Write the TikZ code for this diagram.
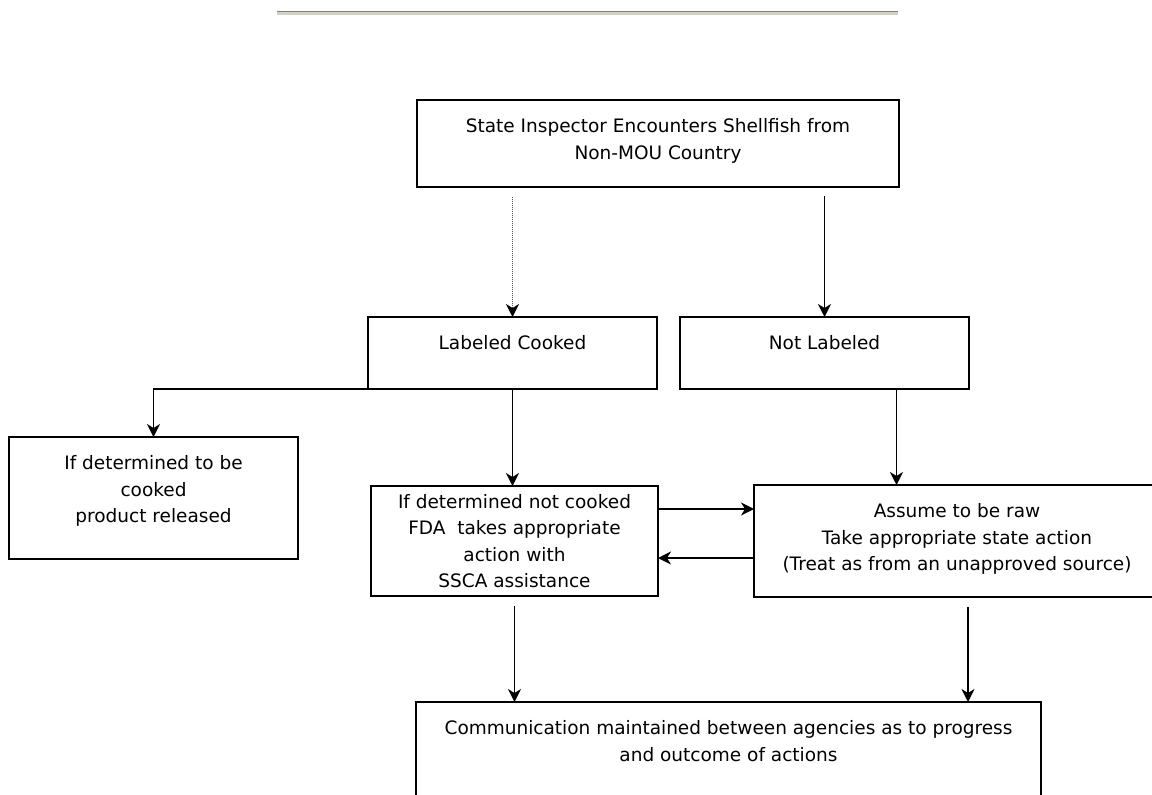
\documentclass[tikz,border=0pt]{standalone}
\usepackage{fontspec}
\setmainfont{DejaVu Sans}
\usepackage{xcolor}
\usetikzlibrary{arrows.meta}

\definecolor{hrface}{RGB}{212,208,200}
\definecolor{hrshade}{RGB}{128,128,128}

\tikzset{
  box/.style={draw, line width=1.5pt, rectangle, anchor=north west,
    inner sep=0pt, outer sep=0pt, align=center},
  caption/.style={anchor=north, yshift=-18.5pt, inner sep=0pt, align=center},
  arr/.style={line width=1.6pt, -{Stealth[length=13pt,width=13pt,inset=4pt,color=black]}}
}

\begin{document}
\begin{tikzpicture}[x=1pt,y=-1pt,font=\fontsize{18.5}{26.5}\selectfont]
                \useasboundingbox (0,0) rectangle (1152,795);
                \clip (0,0) rectangle (1152,795);
                % rule across the top
                \fill[hrface] (277,12) rectangle (898,15);
                \draw[hrshade, line width=1pt] (277,11.5) -- (898,11.5);
                % the boxes
                \node[box, minimum width=482pt, minimum height=87pt,
                  label={[caption]north:State Inspector Encounters Shellfish from\\Non-MOU Country}] (inspect) at (417,100) {};
                \node[box, minimum width=289pt, minimum height=72pt,
                  label={[caption]north:Labeled Cooked}] (lc) at (368,317) {};
                \node[box, minimum width=289pt, minimum height=72pt,
                  label={[caption]north:Not Labeled}] (nl) at (680,317) {};
                \node[box, minimum width=289pt, minimum height=122pt,
                  label={[caption]north:If determined to be\\cooked\\product released}] (ifc) at (9,437) {};
                \node[box, minimum width=287pt, minimum height=110pt] (mid) at (371,486)
                  {If determined not cooked\\FDA\ \ takes appropriate\\action with\\SSCA assistance};
                \node[box, minimum width=406pt, minimum height=112pt,
                  label={[caption]north:Assume to be raw\\Take appropriate state action\\(Treat as from an unapproved source)}] (raw) at (754,485) {};
                \node[box, minimum width=625pt, minimum height=110pt,
                  label={[caption]north:Communication maintained between agencies as to progress\\and outcome of actions}] (comm) at (416,702) {};
                % connectors
                \draw[arr, black!70, dash pattern=on 1pt off 1pt, shorten <=10pt] (inspect.south -| lc.north) -- (lc.north);
                \draw[arr, shorten <=9pt] (inspect.south -| nl.north) -- (nl.north);
                \draw[arr] (lc.south west) -| (ifc.north);
                \draw[arr] (lc.south) -- (lc.south |- mid.north);
                \coordinate (nlout) at ([xshift=72pt]nl.south);
                \draw[arr] (nlout) -- (nlout |- raw.north);
                \coordinate (tofda) at ([yshift=-23pt]mid.north east);
                \draw[arr] (tofda) -- (tofda -| raw.west);
                \coordinate (tostate) at ([yshift=-73pt]raw.north west);
                \draw[arr] (tostate) -- (tostate -| mid.east);
                \draw[arr, shorten <=10pt] (mid.south) -- (mid.south |- comm.north);
                \coordinate (rawout) at ([xshift=11pt]raw.south);
                \draw[arr, shorten <=10pt] (rawout) -- (rawout |- comm.north);
            \end{tikzpicture}
\end{document}
